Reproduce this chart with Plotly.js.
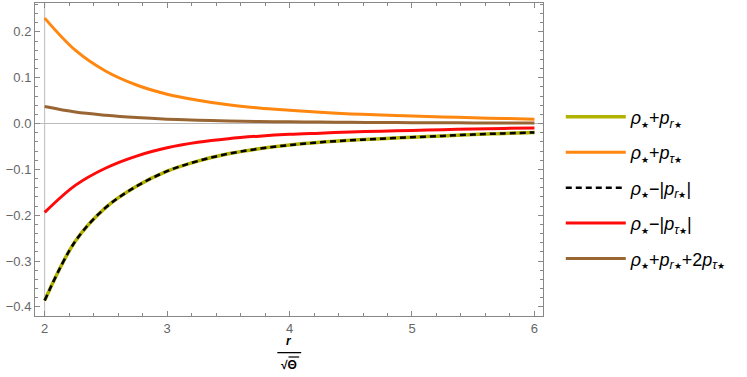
<!DOCTYPE html>
<html>
<head>
<meta charset="utf-8">
<script src="https://cdn.plot.ly/plotly-3.0.1.min.js"></script>
<style>
  html, body { margin: 0; padding: 0; background: #fff; }
  #graph1 { width: 747px; height: 377px; }
</style>
</head>
<body>
<div id="graph1"></div>
<script>
// r / sqrt(theta)
var radios = [2.0, 2.25, 2.5, 2.75, 3.0, 3.25, 3.5, 3.75, 4.0, 4.25, 4.5, 4.75, 5.0, 5.25, 5.5, 5.75, 6.0];

// rho + p_r  (same curve as rho - |p_r|)
var rhoMasPr = [-0.386, -0.257, -0.183, -0.137, -0.104, -0.082, -0.066, -0.055, -0.047, -0.041, -0.0365, -0.033, -0.030, -0.027, -0.024, -0.0215, -0.0195];
// rho + p_tau
var rhoMasPt = [0.230, 0.160, 0.114, 0.084, 0.064, 0.051, 0.041, 0.034, 0.029, 0.0245, 0.021, 0.0185, 0.0165, 0.0145, 0.0125, 0.011, 0.0095];
// rho - |p_tau|
var rhoMenosPt = [-0.194, -0.135, -0.097, -0.071, -0.053, -0.041, -0.033, -0.0275, -0.0235, -0.021, -0.0185, -0.0167, -0.015, -0.0135, -0.012, -0.0107, -0.0095];
// rho + p_r + 2 p_tau
var rhoSuma = [0.037, 0.025, 0.018, 0.013, 0.0095, 0.0072, 0.0056, 0.0045, 0.0037, 0.0031, 0.0026, 0.0022, 0.0019, 0.0016, 0.0014, 0.0012, 0.0011];

var est = '<span style="font-size:9px">★</span>';
var etiquetas = [
    '<i>ρ</i><sub>' + est + '</sub>+<i>p</i><sub><i>r</i>' + est + '</sub>',
    '<i>ρ</i><sub>' + est + '</sub>+<i>p</i><sub><i>τ</i>' + est + '</sub>',
    '<i>ρ</i><sub>' + est + '</sub>−|<i>p</i><sub><i>r</i>' + est + '</sub>|',
    '<i>ρ</i><sub>' + est + '</sub>−|<i>p</i><sub><i>τ</i>' + est + '</sub>|',
    '<i>ρ</i><sub>' + est + '</sub>+<i>p</i><sub><i>r</i>' + est + '</sub>+2<i>p</i><sub><i>τ</i>' + est + '</sub>'
];

function curva(y, nombre, grupo, line) {
    line.shape = 'spline';
    line.smoothing = 1;
    return {
        x: radios,
        y: y,
        name: nombre,
        legendgroup: grupo,
        type: 'scatter',
        mode: 'lines',
        line: line
    };
}

function graficarCondiciones() {
    var data = [
        curva(rhoMasPr, etiquetas[0], 'a', {color: 'rgb(178, 178, 0)', width: 3.5}),
        curva(rhoMasPt, etiquetas[1], 'b', {color: 'rgb(255, 135, 15)', width: 3}),
        curva(rhoMasPr, etiquetas[2], 'c', {color: 'black', width: 2.5, dash: '6px,4px'}),
        curva(rhoMenosPt, etiquetas[3], 'd', {color: 'rgb(255, 10, 10)', width: 3}),
        curva(rhoSuma, etiquetas[4], 'e', {color: 'rgb(153, 102, 51)', width: 3})
    ];

    var ejeFont = {family: 'Liberation Sans, Arial, sans-serif', size: 13, color: '#666'};

    var layout = {
        width: 747,
        height: 377,
        margin: {l: 35, r: 204, t: 3, b: 61},
        paper_bgcolor: 'white',
        plot_bgcolor: 'white',
        showlegend: true,
        legend: {
            x: 1.035,
            xanchor: 'left',
            y: 0.41,
            yanchor: 'middle',
            font: {family: 'Liberation Sans, Arial, sans-serif', size: 18, color: 'black'},
            itemwidth: 60,
            tracegroupgap: 9,
            traceorder: 'grouped',
            bgcolor: 'rgba(0,0,0,0)'
        },
        xaxis: {
            range: [1.921, 6.07],
            tickvals: [2, 3, 4, 5, 6],
            ticks: 'inside',
            ticklen: 5,
            tickcolor: '#888',
            tickfont: ejeFont,
            showline: true,
            linecolor: '#888',
            linewidth: 1,
            mirror: 'allticks',
            showgrid: false,
            zeroline: false,
            minor: {dtick: 0.2, ticks: 'inside', ticklen: 3, tickcolor: '#888', showgrid: false}
        },
        yaxis: {
            range: [-0.42, 0.263],
            tickvals: [-0.4, -0.3, -0.2, -0.1, 0, 0.1, 0.2],
            tickformat: '.1f',
            ticks: 'inside',
            ticklen: 5,
            tickcolor: '#888',
            tickfont: ejeFont,
            showline: true,
            linecolor: '#888',
            linewidth: 1,
            mirror: 'allticks',
            showgrid: false,
            zeroline: true,
            zerolinecolor: '#bbb',
            zerolinewidth: 1,
            minor: {dtick: 0.02, ticks: 'inside', ticklen: 3, tickcolor: '#888', showgrid: false}
        },
        shapes: [
            // eje vertical en r = 2
            {type: 'line', xref: 'x', yref: 'paper', x0: 2, x1: 2, y0: 0, y1: 1,
             line: {color: '#bbb', width: 1}, layer: 'below'},
            // barra de la fraccion
            {type: 'line', xref: 'paper', yref: 'paper', x0: 0.477, x1: 0.524, y0: -0.117, y1: -0.117,
             line: {color: 'black', width: 1.3}},
            // raya sobre theta
            {type: 'line', xref: 'paper', yref: 'paper', x0: 0.499, x1: 0.52, y0: -0.131, y1: -0.131,
             line: {color: 'black', width: 1.2}}
        ],
        annotations: [
            {text: '<b><i>r</i></b>', xref: 'paper', yref: 'paper', x: 0.5, y: -0.108, xanchor: 'center', yanchor: 'bottom',
             showarrow: false, font: {family: 'Liberation Sans, Arial, sans-serif', size: 12, color: 'black'}},
            {text: '<b>√Θ</b>', xref: 'paper', yref: 'paper', x: 0.5, y: -0.127, xanchor: 'center', yanchor: 'top',
             showarrow: false, font: {family: 'Liberation Sans, Arial, sans-serif', size: 12, color: 'black'}}
        ]
    };

    Plotly.newPlot('graph1', data, layout, {displayModeBar: false, staticPlot: true});
}

graficarCondiciones();
</script>
</body>
</html>
